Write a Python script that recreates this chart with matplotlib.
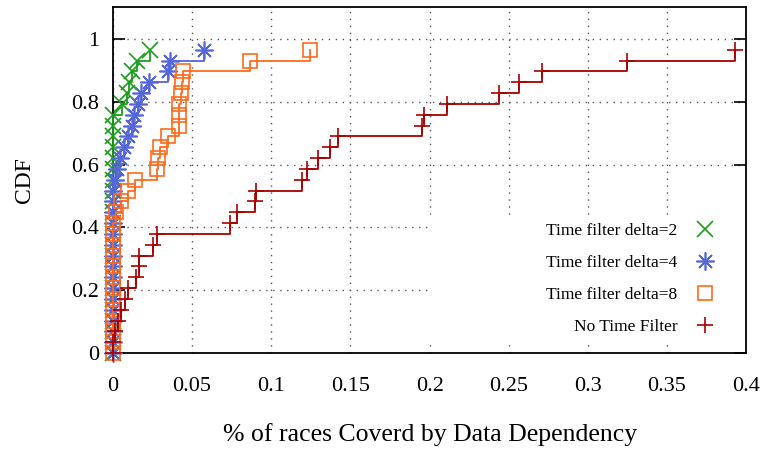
import matplotlib
matplotlib.use("Agg")
import matplotlib.pyplot as plt
from matplotlib.lines import Line2D
from matplotlib.patches import Rectangle

plt.rcParams['font.family'] = ['Liberation Serif', 'DejaVu Serif']

# CDF levels (29 entries per series)
cdf = [0.0, 0.0345, 0.0690, 0.1034, 0.1379, 0.1724, 0.2069, 0.2414, 0.2759, 0.3103,
       0.3448, 0.3793, 0.4138, 0.4483, 0.4828, 0.5172, 0.5517, 0.5862, 0.6207, 0.6552,
       0.6897, 0.7241, 0.7586, 0.7931, 0.8276, 0.8621, 0.8966, 0.9310, 0.9655]

delta2 = [0, 0, 0, 0, 0, 0, 0, 0, 0, 0, 0, 0, 0, 0, 0, 0, 0, 0, 0, 0, 0, 0, 0,
          0.0057, 0.009, 0.0103, 0.0123, 0.015, 0.0236]
delta4 = [0, 0, 0, 0, 0, 0, 0, 0, 0, 0, 0, 0, 0, 0, 0, 0,
          0.001, 0.0025, 0.0045, 0.0068, 0.0093, 0.0118, 0.0135, 0.016, 0.018,
          0.0225, 0.0345, 0.036, 0.0575]
delta8 = [0, 0, 0, 0, 0, 0, 0, 0, 0, 0, 0, 0, 0,
          0.002, 0.005, 0.0095, 0.0139, 0.0276, 0.0286, 0.0297, 0.035, 0.0419,
          0.0419, 0.042, 0.0427, 0.0434, 0.0444, 0.0866, 0.1245]
nofilter = [0, 0, 0.0013, 0.0034, 0.0049, 0.0076, 0.0097, 0.0145, 0.0166, 0.0166,
            0.0255, 0.028, 0.0739, 0.0786, 0.0897, 0.0902, 0.1192, 0.1224, 0.1293,
            0.1371, 0.142, 0.1953, 0.1965, 0.211, 0.244, 0.2566, 0.2713, 0.325, 0.393]

labels = ["Time filter delta=2", "Time filter delta=4", "Time filter delta=8", "No Time Filter"]
xticks = [0, 0.05, 0.1, 0.15, 0.2, 0.25, 0.3, 0.35, 0.4]
xticklabels = ["0", "0.05", "0.1", "0.15", "0.2", "0.25", "0.3", "0.35", "0.4"]
yticks = [0, 0.2, 0.4, 0.6, 0.8, 1.0]
yticklabels = ["0", "0.2", "0.4", "0.6", "0.8", "1"]

colors = ["#1a9e1a", "#5566d9", "#ff6a1a", "#a80000"]
markers = ["x", (8, 2, 0), "s", "+"]
msizes = [11, 13, 10, 12]
series = [delta2, delta4, delta8, nofilter]

fig = plt.figure(figsize=(7.63, 4.49), dpi=100)
ax = fig.add_axes([0.148, 0.2138, 0.830, 0.7695])

for xs, c, m, ms in zip(series, colors, markers, msizes):
    ax.plot(xs, cdf, drawstyle='steps-post', color=c, lw=1.3, clip_on=False, zorder=3)
    ax.plot(xs, cdf, linestyle='none', marker=m, markersize=ms, color=c,
            markerfacecolor='none', markeredgewidth=1.2, clip_on=False, zorder=3)

ax.set_xlim(0, 0.4)
ax.set_ylim(0, 1.1)
ax.set_xticks(xticks)
ax.set_xticklabels(xticklabels)
ax.set_yticks(yticks)
ax.set_yticklabels(yticklabels)
ax.tick_params(direction='in', length=8.5, width=1.2, labelsize=16, pad=10,
               top=True, right=True)
ax.tick_params(axis='x', pad=17, length=0)
ax.grid(True, color='#555555', linestyle=(0, (1, 4)), linewidth=1.0)
for s in ax.spines.values():
    s.set_linewidth(1.3)

# white key box hiding the grid
ax.add_patch(Rectangle((0.4976, 0.032), 0.5024, 0.368, transform=ax.transAxes,
                       facecolor='white', edgecolor='none', zorder=2))

ax.set_xlabel("% of races Coverd by Data Dependency", fontsize=18.5, labelpad=20)
ax.set_ylabel("CDF", fontsize=17, labelpad=26)

handles = [Line2D([], [], linestyle='none', marker=m, markersize=ms, color=c,
                  markerfacecolor='none', markeredgewidth=1.2)
           for c, m, ms in zip(colors, markers, msizes)]
leg = ax.legend(handles, labels, loc='center right', bbox_to_anchor=(0.952, 0.215),
                frameon=False, markerfirst=False, fontsize=12.5, handlelength=1.2,
                handletextpad=1.0, labelspacing=0.92, borderaxespad=0, borderpad=0)
leg.set_zorder(5)

fig.savefig("out.png", dpi=100)
